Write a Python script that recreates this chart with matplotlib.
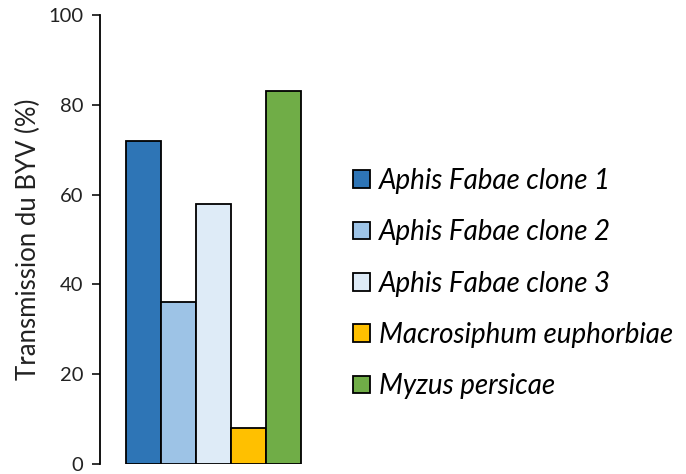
import matplotlib
matplotlib.use("Agg")
import matplotlib.pyplot as plt
from matplotlib.patches import Patch

# Transmission rates of BYV by aphid species / clone
labels = ["Aphis Fabae clone 1", "Aphis Fabae clone 2", "Aphis Fabae clone 3",
          "Macrosiphum euphorbiae", "Myzus persicae"]
values = [72, 36, 58, 8, 83]
colors = ["#2E75B6", "#9DC3E6", "#DEEBF7", "#FFC000", "#70AD47"]
yticks = [0, 20, 40, 60, 80, 100]

plt.rcParams["font.family"] = ["Lato", "DejaVu Sans"]

fig = plt.figure(figsize=(6.86, 4.74), dpi=100)
ax = fig.add_axes([100 / 686, 10 / 474, 227 / 686, 449 / 474])

x = list(range(len(values)))
ax.bar(x, values, width=1.0, color=colors, edgecolor="black", linewidth=1.3, zorder=2)

ax.set_xlim(-1.243, 5.243)
ax.set_ylim(0, 100)
ax.set_yticks(yticks)
ax.set_xticks([])
ax.tick_params(axis="y", direction="out", length=6, width=1.3, labelsize=14.5,
               pad=6, colors="#222222")
for side in ("top", "right", "bottom"):
    ax.spines[side].set_visible(False)
ax.spines["left"].set_linewidth(1.3)
ax.set_ylabel("Transmission du BYV (%)", fontsize=18.5, color="#222222", labelpad=5)

handles = [Patch(facecolor=c, edgecolor="black", linewidth=1.3) for c in colors]
leg = fig.legend(handles, labels, loc="upper left", bbox_to_anchor=(353 / 686, 1 - 168 / 474),
                 frameon=False, handlelength=0.6, handleheight=0.6, handletextpad=0.33,
                 labelspacing=0.91, borderaxespad=0, borderpad=0,
                 prop={"family": ["Lato", "DejaVu Sans"], "style": "italic", "size": 20})

fig.savefig("out.png", dpi=100)
